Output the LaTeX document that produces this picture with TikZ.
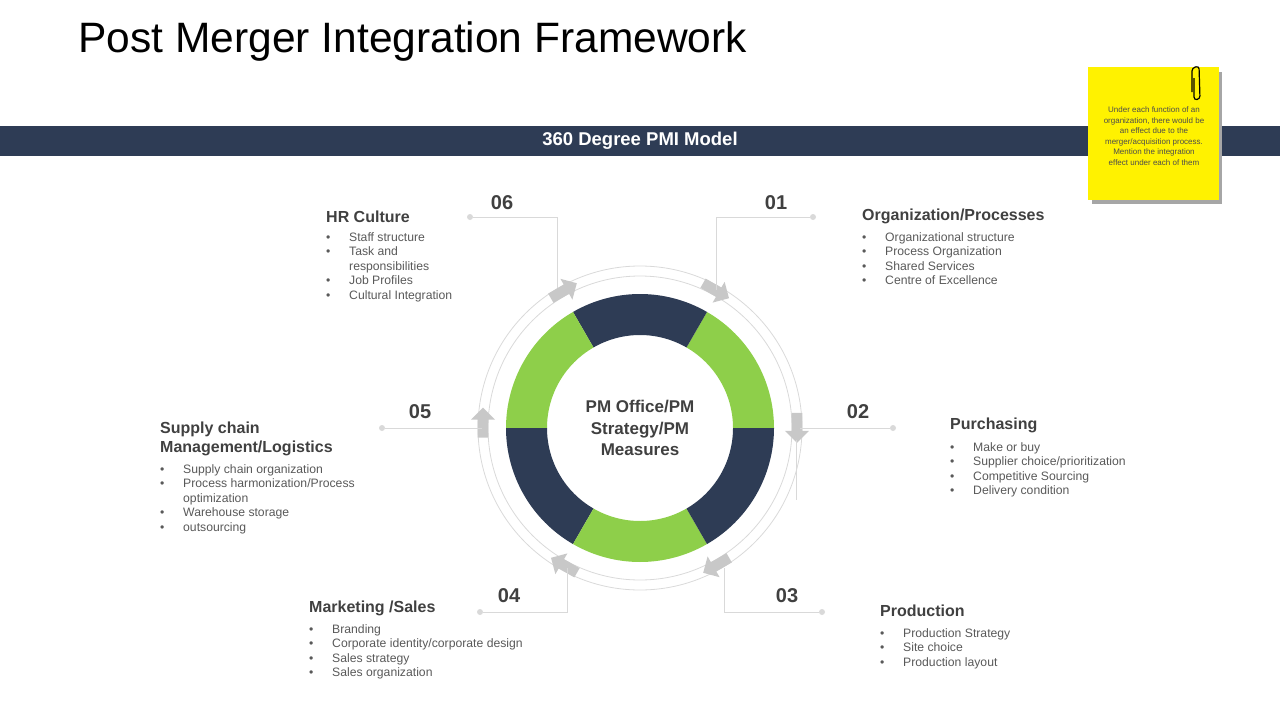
\documentclass[tikz,border=0pt]{standalone}
\usepackage{fontspec}
\setmainfont{Liberation Sans}
\usetikzlibrary{shapes.arrows,calc}
\definecolor{navy}{HTML}{2E3C55}
\definecolor{lgreen}{HTML}{8ECF4A}
\definecolor{txt}{HTML}{404040}
\definecolor{btxt}{HTML}{595959}
\definecolor{gline}{HTML}{D9D9D9}
\definecolor{garr}{HTML}{C8C8C8}
\tikzset{
 head/.style={anchor=north west,font=\bfseries\fontsize{16}{18.5}\selectfont,text=txt,inner sep=0pt,align=left},
 blist/.style={anchor=north west,font=\fontsize{12.2}{14.5}\selectfont,text=btxt,inner sep=0pt,align=left},
 num/.style={font=\bfseries\fontsize{20}{22}\selectfont,text=txt},
 lead/.style={draw=gline,line width=0.8pt},
 dotc/.style={circle,fill=gline,inner sep=0pt,minimum size=6pt},
 garrow/.style={single arrow,fill=garr,draw=none,minimum height=30pt,minimum width=24pt,single arrow head extend=4pt,inner sep=3pt},
}
\newcommand{\bl}[1]{\makebox[23pt][l]{\textbullet}#1}
\begin{document}
\begin{tikzpicture}[x=1pt,y=-1pt]
\useasboundingbox (0,0) rectangle (1280,720);
\node[anchor=west,font=\fontsize{42.5}{46}\selectfont,text=black] (title) at (75,42) {Post Merger Integration Framework};
\fill[navy] (0,126) rectangle (1280,156);
\node[font=\bfseries\fontsize{18.5}{20}\selectfont,text=white] (band) at (640,141) {360 Degree PMI Model};
% sticky note
\fill[black!35] (1092,72) rectangle (1222,204);
\fill[yellow] (1088,67) rectangle (1219,200);
\node[font=\fontsize{8}{10.5}\selectfont,text=black!70,align=center] (note) at (1154,136) {Under each function of an\\organization,  there would be\\an effect due to the\\merger/acquisition process.\\Mention  the integration\\effect under each of them};
\draw[black,line width=1.2pt,rounded corners=3pt] (1192,92) -- (1192,68) -- (1199,66) -- (1200,99) -- (1194,100) -- (1194,78);
% ring
\coordinate (c) at (640,428);
\draw[gline,line width=0.8pt] (c) circle[radius=152];
\draw[gline,line width=0.8pt] (c) circle[radius=162];
\foreach \a/\col in {0/lgreen,60/navy,120/lgreen,180/navy,240/lgreen,300/navy}{
 \fill[\col] ($(c)+(\a:134 and -134)$) arc[start angle=\a,end angle=\a+60,x radius=134,y radius=-134] -- ($(c)+(\a+60:93 and -93)$) arc[start angle=\a+60,end angle=\a,x radius=93,y radius=-93] -- cycle;
}
\node[font=\bfseries\fontsize{17}{21.5}\selectfont,text=txt,align=center] (center) at (c) {PM Office/PM\\Strategy/PM\\Measures};
% arrows (clockwise)
\node[garrow,rotate=-30] (a1) at ($(c)+(62:157 and -157)$) {};
\node[garrow,rotate=-90] (a2) at ($(c)+(1:157 and -157)$) {};
\node[garrow,rotate=-150] (a3) at ($(c)+(-60:157 and -157)$) {};
\node[garrow,rotate=150] (a4) at ($(c)+(-118:157 and -157)$) {};
\node[garrow,rotate=90] (a5) at ($(c)+(179:157 and -157)$) {};
\node[garrow,rotate=30] (a6) at ($(c)+(120:157 and -157)$) {};
% leaders
\node[dotc] (d1) at (813,217) {}; \draw[lead] (716,290) -- (716,217) -- (d1);
\node[dotc] (d6) at (470,217) {}; \draw[lead] (557,288) -- (557,217) -- (d6);
\node[dotc] (d2) at (893,428) {}; \draw[lead] (800,428) -- (d2); \draw[lead] (796,440) -- (796,500);
\node[dotc] (d5) at (382,428) {}; \draw[lead] (482,428) -- (d5);
\node[dotc] (d4) at (480,612) {}; \draw[lead] (567,568) -- (567,612) -- (d4);
\node[dotc] (d3) at (822,612) {}; \draw[lead] (724,568) -- (724,612) -- (d3);
\node[num] (n06) at (502,203) {06};
\node[num] (n01) at (776,203) {01};
\node[num] (n02) at (858,412) {02};
\node[num] (n05) at (420,412) {05};
\node[num] (n04) at (509,596) {04};
\node[num] (n03) at (787,596) {03};
% texts
\node[head] (h6) at (326,211) {HR Culture};
\node[blist] (b6) at (326,232) {\bl{Staff structure}\\\bl{Task and}\\\hspace*{23pt}responsibilities\\\bl{Job Profiles}\\\bl{Cultural Integration}};
\node[head] (h1) at (862,209) {Organization/Processes};
\node[blist] (b1) at (862,232) {\bl{Organizational structure}\\\bl{Process Organization}\\\bl{Shared Services}\\\bl{Centre of Excellence}};
\node[head] (h2) at (950,418) {Purchasing};
\node[blist] (b2) at (950,442) {\bl{Make or buy}\\\bl{Supplier choice/prioritization}\\\bl{Competitive Sourcing}\\\bl{Delivery condition}};
\node[head,text depth=0pt] (h5) at (160,422) {Supply chain\\Management/Logistics};
\node[blist] (b5) at (160,464) {\bl{Supply chain organization}\\\bl{Process harmonization/Process}\\\hspace*{23pt}optimization\\\bl{Warehouse storage}\\\bl{outsourcing}};
\node[head] (h4) at (309,601) {Marketing /Sales};
\node[blist] (b4) at (309,624) {\bl{Branding}\\\bl{Corporate identity/corporate design}\\\bl{Sales strategy}\\\bl{Sales organization}};
\node[head] (h3) at (880,605) {Production};
\node[blist] (b3) at (880,628) {\bl{Production Strategy}\\\bl{Site choice}\\\bl{Production layout}};
\end{tikzpicture}
\end{document}
